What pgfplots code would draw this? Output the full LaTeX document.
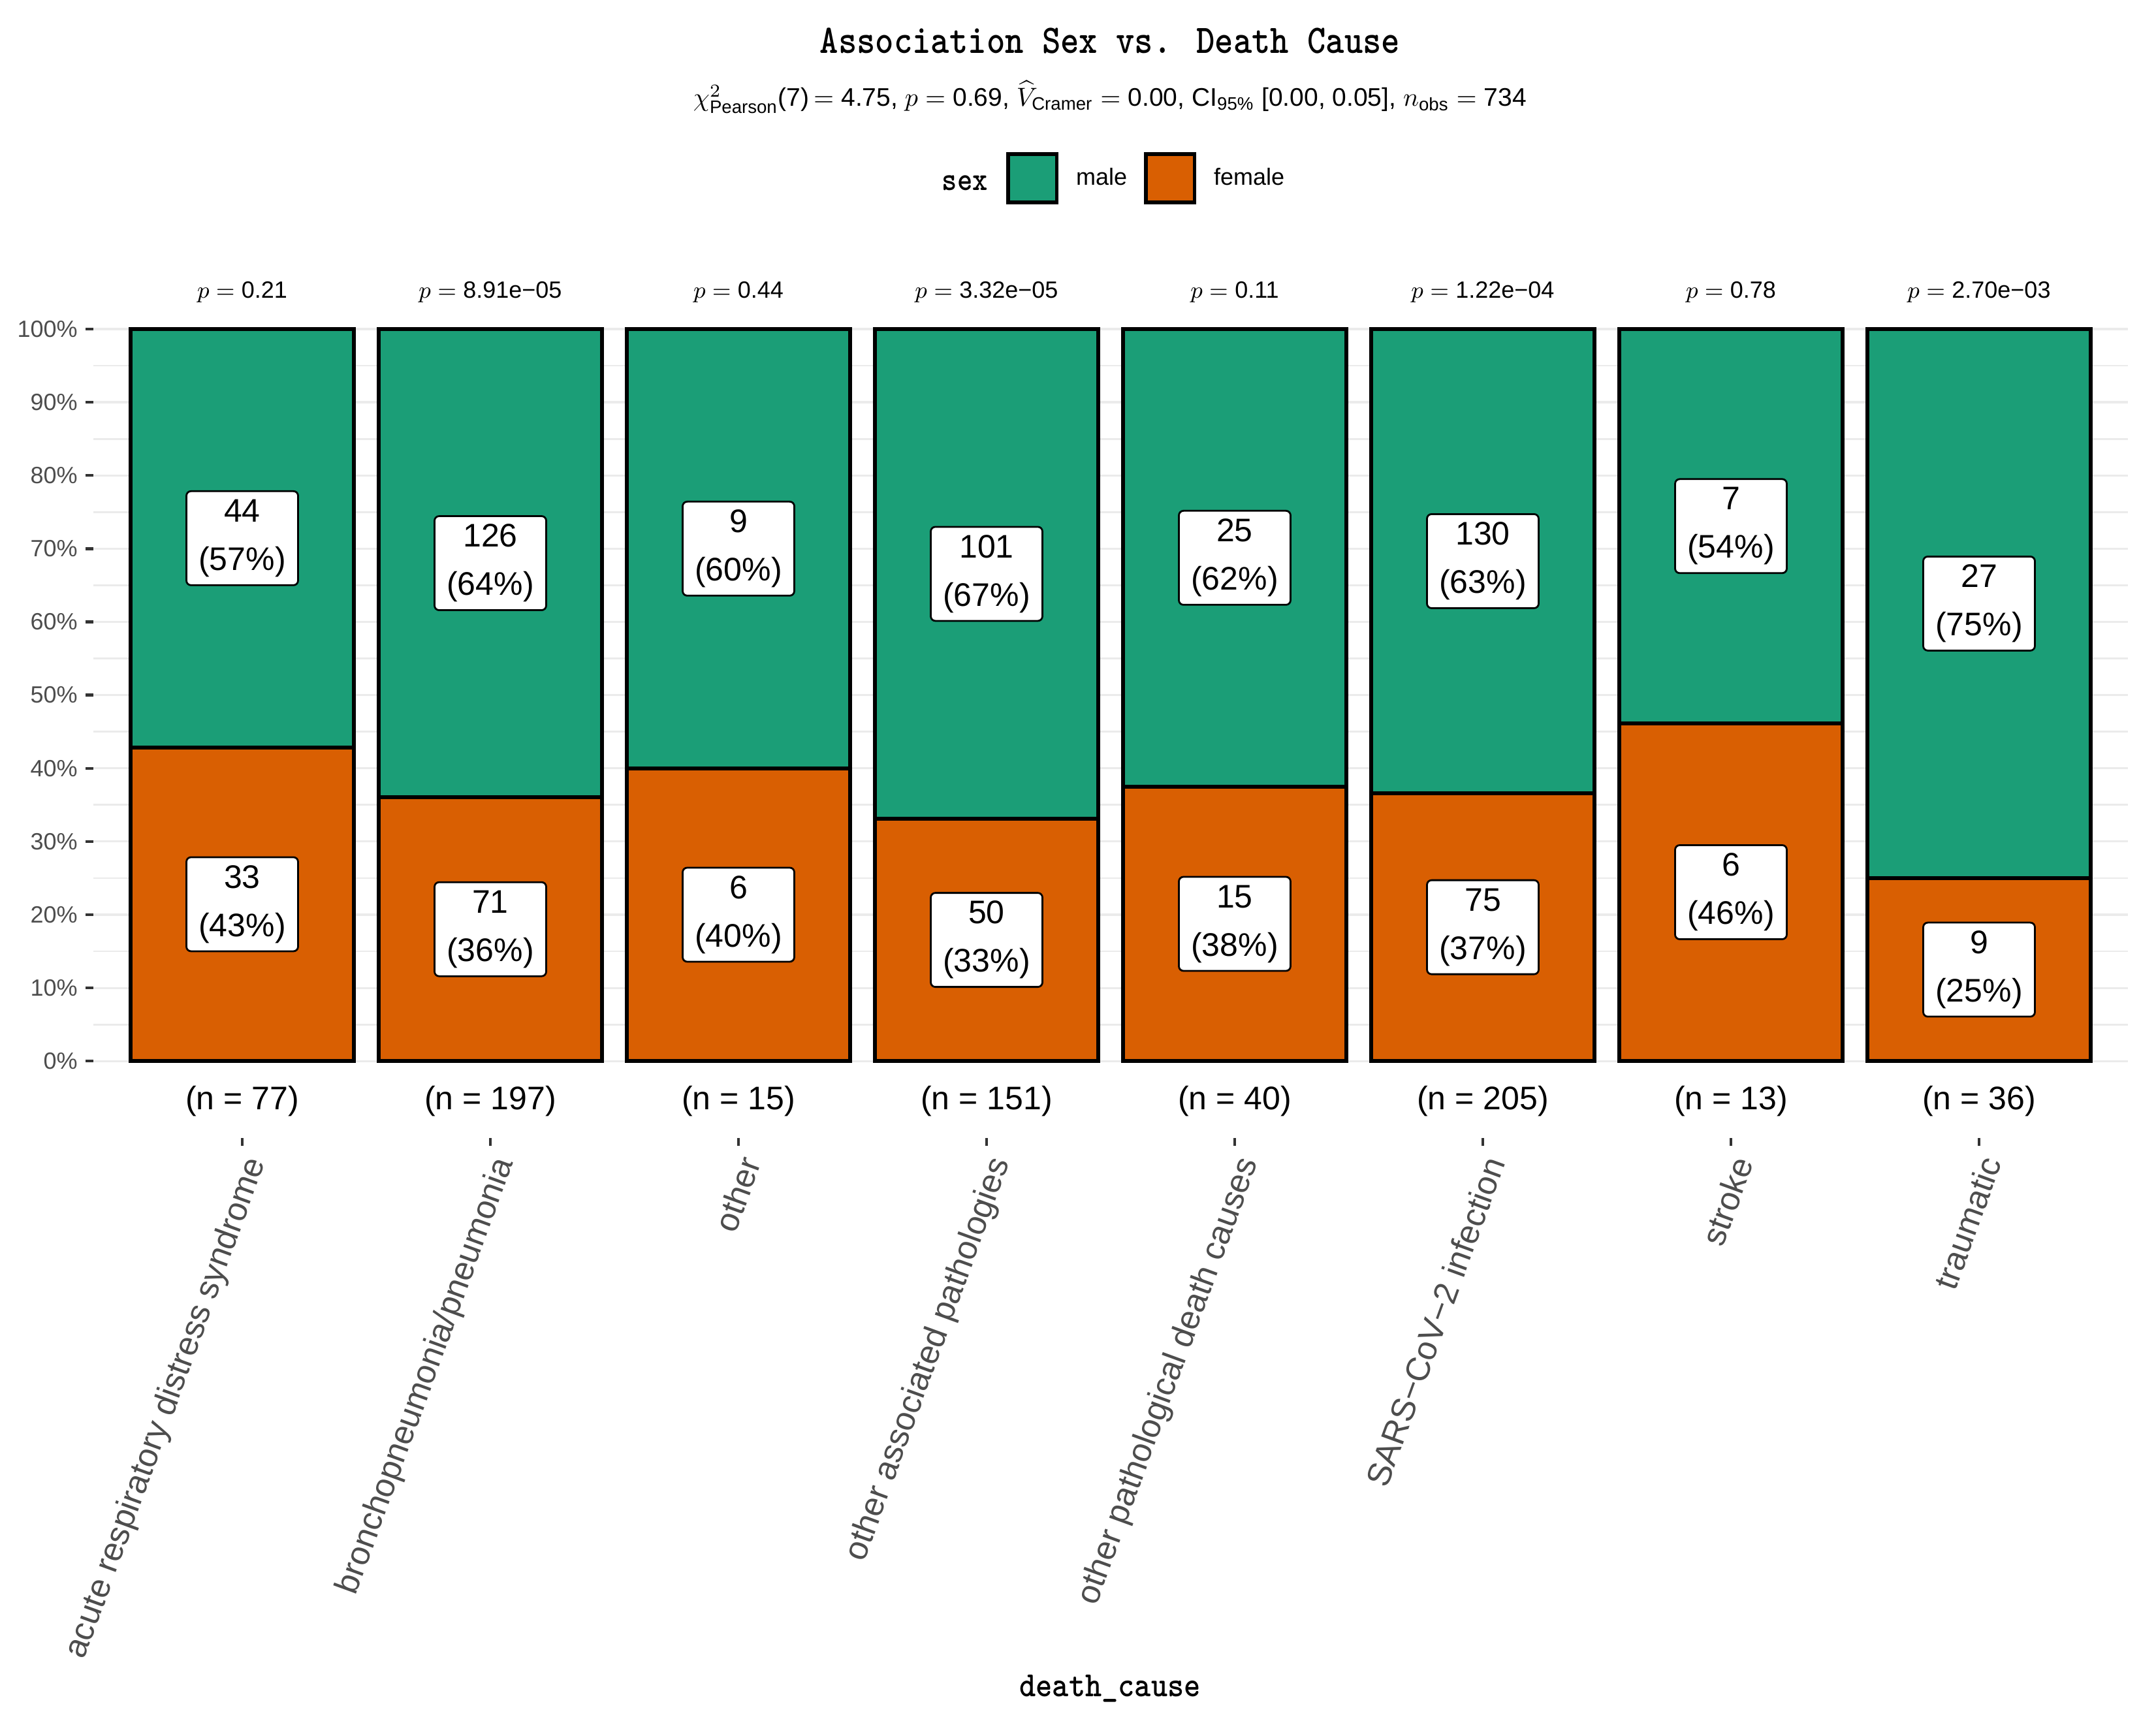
\documentclass[border=0pt]{standalone}
\usepackage{fontspec}
\usepackage{graphicx}
\usepackage{pgfplots}
\usepackage{pgfplotstable}
\pgfplotsset{compat=1.18}
\setmainfont{Liberation Sans}
\definecolor{male}{HTML}{1B9E77}
\definecolor{female}{HTML}{D95F02}
\definecolor{gridc}{HTML}{EBEBEB}
\definecolor{tickc}{HTML}{333333}
\definecolor{labc}{HTML}{4D4D4D}
\newcommand\sub[1]{\mbox{\fontsize{6.9pt}{7pt}\selectfont #1}}
\def\splitlab#1{\expandafter\splitlabi#1\relax}
\def\splitlabi#1/#2\relax{#1\\(#2\%)}

% proportions (female, male) per death cause
\pgfplotstableread{
x f m
1 0.42857 0.57143
2 0.36041 0.63959
3 0.40000 0.60000
4 0.33113 0.66887
5 0.37500 0.62500
6 0.36585 0.63415
7 0.46154 0.53846
8 0.25000 0.75000
}\bars

% label position, count/percent
\pgfplotstableread{
x y lab
1 0.21429 33/43
2 0.18020 71/36
3 0.20000 6/40
4 0.16556 50/33
5 0.18750 15/38
6 0.18293 75/37
7 0.23077 6/46
8 0.12500 9/25
}\femlab

\pgfplotstableread{
x y lab
1 0.71429 44/57
2 0.68020 126/64
3 0.70000 9/60
4 0.66557 101/67
5 0.68750 25/62
6 0.68293 130/63
7 0.73077 7/54
8 0.62500 27/75
}\malelab

\pgfplotstableread{
x y tot
1 -0.05 77
2 -0.05 197
3 -0.05 15
4 -0.05 151
5 -0.05 40
6 -0.05 205
7 -0.05 13
8 -0.05 36
}\nlab

\pgfplotstableread{
x y pv
1 1.05 0.21
2 1.05 8.91e−05
3 1.05 0.44
4 1.05 3.32e−05
5 1.05 0.11
6 1.05 1.22e−04
7 1.05 0.78
8 1.05 2.70e−03
}\plab

\pgfplotsset{
  common/.style={
    at={(35.75pt,223.75pt)}, anchor=south west,
    scale only axis, width=779pt, height=339.2pt,
    xmin=0.4, xmax=8.6, ymin=-0.105, ymax=1.105,
  },
  labelbox/.style={
    draw=none, mark=none, forget plot,
    point meta=explicit symbolic,
    nodes near coords={\splitlab\pgfplotspointmeta},
    nodes near coords align={center},
    every node near coord/.style={draw=black, fill=white, line width=0.7pt,
      rounded corners=1.75pt, align=center, anchor=center,
      minimum width=42.75pt, minimum height=36pt, inner sep=0pt,
      font=\fontsize{12.5pt}{18.5pt}\selectfont, text=black},
  },
}

\begin{document}
\begin{tikzpicture}
\useasboundingbox (0,0) rectangle (825.5pt,659.5pt);

\begin{axis}[common,
  ybar stacked, bar width=0.9,
  axis line style={draw=none},
  tick align=outside, xtick pos=left, ytick pos=left,
  xtick={1,2,3,4,5,6,7,8},
  xticklabels={acute respiratory distress syndrome, bronchopneumonia/pneumonia, other, other associated pathologies, other pathological death causes, SARS−CoV−2 infection, stroke, traumatic},
  ytick={0,0.1,0.2,0.3,0.4,0.5,0.6,0.7,0.8,0.9,1},
  yticklabels={0\%,10\%,20\%,30\%,40\%,50\%,60\%,70\%,80\%,90\%,100\%},
  minor ytick={0.05,0.15,0.25,0.35,0.45,0.55,0.65,0.75,0.85,0.95},
  ymajorgrids, yminorgrids,
  major grid style={gridc, line width=0.8pt},
  minor grid style={gridc, line width=0.7pt},
  major tick length=3pt, minor tick length=0pt,
  every tick/.style={tickc, line width=1.1pt},
  xticklabel shift=3pt,
  yticklabel shift=2.9pt,
  xticklabel style={rotate=70, anchor=north east, inner sep=0pt,
    font=\fontsize{12.8pt}{14pt}\selectfont, text=labc},
  yticklabel style={anchor=east, inner sep=0pt,
    font=\fontsize{9pt}{10pt}\selectfont, text=labc},
]
\addplot[fill=female, draw=black, line width=1.4pt] table[x=x, y=f] {\bars};
\addplot[fill=male, draw=black, line width=1.4pt] table[x=x, y=m] {\bars};
\end{axis}

\begin{axis}[common, axis lines=none, clip=false,
  legend columns=2,
  legend style={at={(axis description cs:0.4487,1.0834)}, anchor=west,
    draw=none, fill=none, inner sep=0pt, outer sep=0pt,
    nodes={inner sep=0pt},
    font=\fontsize{9pt}{10pt}\selectfont,
    /tikz/every odd column/.append style={column sep=6.75pt},
    /tikz/every even column/.append style={column sep=6.5pt}},
  legend image code/.code={\draw[#1, draw=black, line width=1.4pt] (0.7pt,-9.3pt) rectangle (19.3pt,9.3pt);},
]
\addlegendimage{fill=male}
\addlegendentry{male}
\addlegendimage{fill=female}
\addlegendentry{female}

\addplot[labelbox] table[x=x, y=y, meta=lab] {\femlab};
\addplot[labelbox] table[x=x, y=y, meta=lab] {\malelab};

\addplot[draw=none, mark=none, forget plot,
  point meta=explicit symbolic,
  nodes near coords={(n = \pgfplotspointmeta)},
  nodes near coords align={center},
  every node near coord/.style={anchor=center, inner sep=0pt, yshift=-1.2pt,
    font=\fontsize{12.5pt}{14pt}\selectfont, text=black},
] table[x=x, y=y, meta=tot] {\nlab};

\addplot[draw=none, mark=none, forget plot,
  point meta=explicit symbolic,
  nodes near coords={$p={}$\pgfplotspointmeta},
  nodes near coords align={center},
  every node near coord/.style={anchor=center, inner sep=0pt,
    font=\fontsize{9pt}{10pt}\selectfont, text=black},
] table[x=x, y=y, meta=pv] {\plab};
\end{axis}

% titles
\node[anchor=base, inner sep=0pt] at (425pt,639pt)
  {\scalebox{1}[1.15]{\fontsize{13.5pt}{16pt}\selectfont\ttfamily\bfseries Association Sex vs. Death Cause}};
\node[anchor=base, inner sep=0pt] at (425pt,618.75pt)
  {\fontsize{9.75pt}{11pt}\selectfont
   $\chi^{2}_{\sub{Pearson}}$(7)$\,={}$4.75, $p={}$0.69, $\widehat{V}_{\sub{Cramer}}={}$0.00, CI$_{\sub{95\%}}$ [0.00, 0.05], $n_{\sub{obs}}={}$734};
\node[anchor=base west, inner sep=0pt] at (360.5pt,586.5pt)
  {\scalebox{1}[1.15]{\fontsize{11.1pt}{13pt}\selectfont\ttfamily\bfseries sex}};
\node[anchor=base, inner sep=0pt] at (425pt,10pt)
  {\scalebox{1}[1.13]{\fontsize{12pt}{14pt}\selectfont\ttfamily\bfseries death\_cause}};
\end{tikzpicture}
\end{document}
